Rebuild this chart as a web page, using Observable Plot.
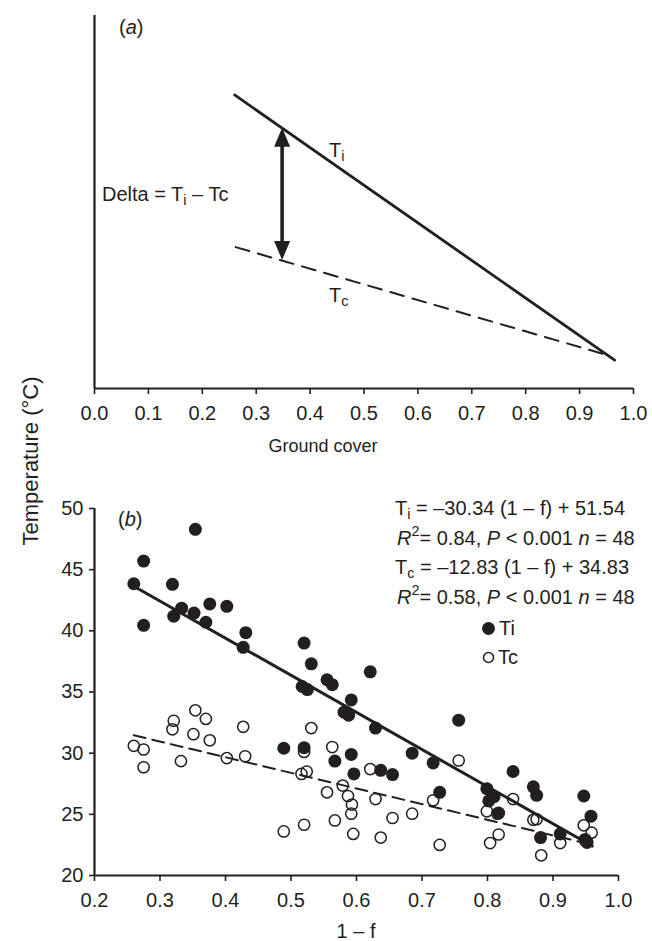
<!DOCTYPE html>
<html>
<head>
<meta charset="utf-8">
<script src="https://cdn.jsdelivr.net/npm/d3@7"></script>
<script src="https://cdn.jsdelivr.net/npm/@observablehq/plot@0.6"></script>
<style>
  body { margin: 0; background: #fff; }
  #wrap { position: relative; width: 652px; height: 941px; overflow: hidden;
          font-family: "Liberation Sans", Arial, Helvetica, sans-serif; color: #231f20; }
  #pa { position: absolute; left: 0; top: 0; }
  #pb { position: absolute; left: 0; top: 460px; }
  .lbl { position: absolute; white-space: nowrap; font-size: 20px; line-height: 1; transform: translateY(-50%); }
  .ctr { transform: translate(-50%, -50%); }
  sub, sup { font-size: 72%; line-height: 0; }
  sub { vertical-align: -0.3em; }
  sup { vertical-align: 0.6em; }
  #ytitle { position: absolute; left: 31px; top: 461px; font-size: 22px; white-space: nowrap;
            transform: translate(-50%, -50%) rotate(-90deg); }
</style>
</head>
<body>
<div id="wrap">
  <div id="pa"></div>
  <div id="pb"></div>
  <div id="ytitle">Temperature (°C)</div>

  <div class="lbl" style="left:119px;top:27px;">(<i>a</i>)</div>
  <div class="lbl" style="left:118px;top:519px;">(<i>b</i>)</div>

  <div class="lbl" style="left:102px;top:194px;">Delta = T<sub>i</sub> – Tc</div>
  <div class="lbl" style="left:329px;top:150px;">T<sub>i</sub></div>
  <div class="lbl" style="left:329px;top:295px;">T<sub>c</sub></div>
  <div class="lbl ctr" style="left:323px;top:446px;font-size:18px;">Ground cover</div>
  <div class="lbl ctr" style="left:356px;top:931px;">1 – f</div>

  <div class="lbl" style="left:395px;top:508px;">T<sub>i</sub> = –30.34 (1 – f) + 51.54</div>
  <div class="lbl" style="left:397px;top:538px;"><i>R</i><sup>2</sup>= 0.84, <i>P</i> &lt; 0.001 <i>n</i> = 48</div>
  <div class="lbl" style="left:395px;top:567px;">T<sub>c</sub> = –12.83 (1 – f) + 34.83</div>
  <div class="lbl" style="left:397px;top:597px;"><i>R</i><sup>2</sup>= 0.58, <i>P</i> &lt; 0.001 <i>n</i> = 48</div>
  <div class="lbl" style="left:499px;top:628px;">Ti</div>
  <div class="lbl" style="left:498px;top:657px;">Tc</div>
</div>
<script>
// ---------- Panel (a): schematic ----------
const coverTicks = [0, 0.1, 0.2, 0.3, 0.4, 0.5, 0.6, 0.7, 0.8, 0.9, 1.0];
const tiSchemX = [0.26, 0.965];
const tiSchemY = [78.7, 7.6];
const tcSchemX = [0.262, 0.955];
const tcSchemY = [37.9, 8.8];
const deltaX = [0.349];
const deltaTop = [69.8];
const deltaBottom = [34.3];

// ---------- Panel (b): observations ----------
const oneMinusFTicks = [0.2, 0.3, 0.4, 0.5, 0.6, 0.7, 0.8, 0.9, 1.0];
const tempTicks = [20, 25, 30, 35, 40, 45, 50];

const tiX = [0.354, 0.275, 0.260, 0.319, 0.275, 0.333, 0.321, 0.352, 0.376, 0.402,
             0.370, 0.431, 0.427, 0.520, 0.531, 0.555, 0.563, 0.621, 0.517, 0.525,
             0.592, 0.581, 0.588, 0.489, 0.520, 0.567, 0.592, 0.596, 0.629, 0.756,
             0.685, 0.717, 0.637, 0.655, 0.727, 0.839, 0.799, 0.810, 0.802, 0.817,
             0.870, 0.875, 0.947, 0.958, 0.881, 0.911, 0.949, 0.952];
const tiY = [48.3, 45.7, 43.85, 43.8, 40.45, 41.85, 41.2, 41.45, 42.2, 42.0,
             40.7, 39.85, 38.65, 39.0, 37.3, 36.0, 35.6, 36.65, 35.45, 35.2,
             34.35, 33.35, 33.1, 30.4, 30.45, 29.35, 29.9, 28.3, 32.05, 32.7,
             30.0, 29.2, 28.6, 28.25, 26.8, 28.5, 27.1, 26.45, 26.1, 25.1,
             27.25, 26.55, 26.5, 24.85, 23.1, 23.4, 22.95, 22.7];

const tcX = [0.354, 0.321, 0.370, 0.319, 0.351, 0.376, 0.427, 0.260, 0.275, 0.275,
             0.332, 0.402, 0.430, 0.531, 0.563, 0.520, 0.516, 0.524, 0.555, 0.579,
             0.587, 0.593, 0.592, 0.567, 0.520, 0.489, 0.595, 0.621, 0.629, 0.655,
             0.685, 0.637, 0.717, 0.727, 0.756, 0.799, 0.815, 0.839, 0.817, 0.804,
             0.870, 0.875, 0.882, 0.911, 0.947, 0.959, 0.950, 0.949];
const tcY = [33.5, 32.65, 32.8, 31.95, 31.55, 31.05, 32.15, 30.6, 30.3, 28.85,
             29.35, 29.6, 29.75, 32.05, 30.5, 30.1, 28.3, 28.5, 26.8, 27.35,
             26.5, 25.8, 25.05, 24.5, 24.15, 23.6, 23.4, 28.7, 26.25, 24.7,
             25.05, 23.1, 26.15, 22.5, 29.4, 25.25, 25.05, 26.25, 23.35, 22.65,
             24.55, 24.6, 21.65, 22.65, 24.1, 23.5, 22.8, 22.9];

const fitX = [0.26, 0.96];
const tiFitY = [43.65, 22.41];
const tcFitY = [31.46, 22.51];

const ink = "#231f20";
const font = '"Liberation Sans", Arial, Helvetica, sans-serif';

const tiPts = tiX.map((x, i) => ({x, y: tiY[i]}));
const tcPts = tcX.map((x, i) => ({x, y: tcY[i]}));
const tiFit = fitX.map((x, i) => ({x, y: tiFitY[i]}));
const tcFit = fitX.map((x, i) => ({x, y: tcFitY[i]}));
const tiSchem = tiSchemX.map((x, i) => ({x, y: tiSchemY[i]}));
const tcSchem = tcSchemX.map((x, i) => ({x, y: tcSchemY[i]}));

// double-headed arrow drawn through the plot's scales
function deltaArrow(index, scales) {
  const ns = "http://www.w3.org/2000/svg";
  const g = document.createElementNS(ns, "g");
  const hl = 19, hw = 8;
  deltaX.forEach((dx, i) => {
    const x = scales.x(dx), yt = scales.y(deltaTop[i]), yb = scales.y(deltaBottom[i]);
    const shaft = document.createElementNS(ns, "line");
    shaft.setAttribute("x1", x); shaft.setAttribute("x2", x);
    shaft.setAttribute("y1", yt + hl - 1); shaft.setAttribute("y2", yb - hl + 1);
    shaft.setAttribute("stroke", ink); shaft.setAttribute("stroke-width", 3.6);
    g.appendChild(shaft);
    for (const [tip, dir] of [[yt, 1], [yb, -1]]) {
      const p = document.createElementNS(ns, "path");
      p.setAttribute("d", `M${x},${tip}L${x + hw},${tip + dir * hl}L${x - hw},${tip + dir * hl}Z`);
      p.setAttribute("fill", ink);
      g.appendChild(p);
    }
  });
  return g;
}

const pa = Plot.plot({
  width: 652, height: 460,
  marginTop: 15, marginBottom: 72, marginLeft: 94, marginRight: 19,
  style: {fontFamily: font, fontSize: "20px", color: ink, background: "transparent", overflow: "visible"},
  x: {domain: [0, 1]},
  y: {domain: [0, 100], axis: null},
  marks: [
    Plot.axisX({ticks: coverTicks, tickFormat: d3.format(".1f"), tickSize: 6, tickPadding: 11, strokeWidth: 1.6, label: null}),
    Plot.ruleX([0], {stroke: ink, strokeWidth: 2.2}),
    Plot.ruleY([0], {stroke: ink, strokeWidth: 2.2}),
    Plot.line(tiSchem, {x: "x", y: "y", stroke: ink, strokeWidth: 2.8}),
    Plot.line(tcSchem, {x: "x", y: "y", stroke: ink, strokeWidth: 2, strokeDasharray: "14,9"}),
    deltaArrow
  ]
});
document.getElementById("pa").appendChild(pa);

const pb = Plot.plot({
  width: 652, height: 481,
  marginTop: 48, marginBottom: 66, marginLeft: 94, marginRight: 34,
  style: {fontFamily: font, fontSize: "20px", color: ink, background: "transparent", overflow: "visible"},
  x: {domain: [0.2, 1.0]},
  y: {domain: [20, 50]},
  marks: [
    Plot.axisX({ticks: oneMinusFTicks, tickFormat: d3.format(".1f"), tickSize: 6, tickPadding: 11, strokeWidth: 1.6, label: null}),
    Plot.axisY({ticks: tempTicks, tickSize: 5, tickPadding: 6, strokeWidth: 1.6, label: null}),
    Plot.ruleX([0.2], {stroke: ink, strokeWidth: 2.2}),
    Plot.ruleY([20], {stroke: ink, strokeWidth: 2.2}),
    Plot.line(tiFit, {x: "x", y: "y", stroke: ink, strokeWidth: 3}),
    Plot.line(tcFit, {x: "x", y: "y", stroke: ink, strokeWidth: 2, strokeDasharray: "12,7"}),
    Plot.dot(tcPts, {x: "x", y: "y", r: 5.6, stroke: ink, strokeWidth: 1.5, fill: "none"}),
    Plot.dot(tiPts, {x: "x", y: "y", r: 6.5, fill: ink, stroke: "none"}),
    // legend symbols
    Plot.dot([{s: "Ti"}], {frameAnchor: "top-left", dx: 394, dy: 120, r: 6.5, fill: ink}),
    Plot.dot([{s: "Tc"}], {frameAnchor: "top-left", dx: 394, dy: 149, r: 5, stroke: ink, strokeWidth: 1.5, fill: "none"})
  ]
});
document.getElementById("pb").appendChild(pb);
</script>
</body>
</html>
